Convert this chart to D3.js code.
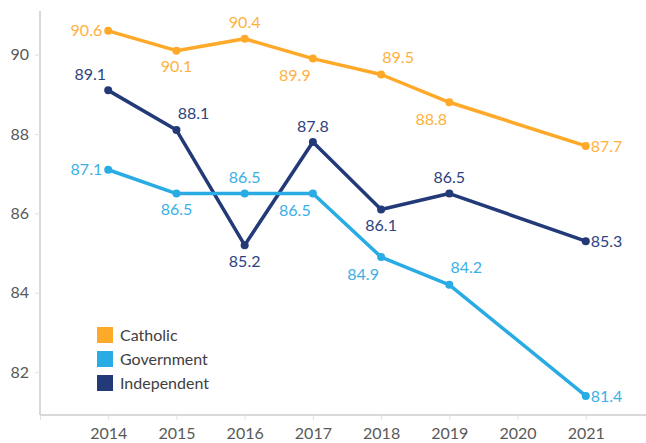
<!DOCTYPE html>
<html>
<head>
<meta charset="utf-8">
<script src="https://cdn.jsdelivr.net/npm/d3@7"></script>
<style>
    body { margin: 0; background: #fff; }
    text { font-family: Lato, "Open Sans", sans-serif; }
</style>
</head>
<body>
<div id="chart"></div>
<script>
// data (2020 has no value for any series)
var years = [2014, 2015, 2016, 2017, 2018, 2019, 2020, 2021];
var yTicks = [82, 84, 86, 88, 90];
var seriesNames = ["Catholic", "Government", "Independent"];
var catholic = [90.6, 90.1, 90.4, 89.9, 89.5, 88.8, null, 87.7];
var government = [87.1, 86.5, 86.5, 86.5, 84.9, 84.2, null, 81.4];
var independent = [89.1, 88.1, 85.2, 87.8, 86.1, 86.5, null, 85.3];

// where each data label sits relative to its point
var catholicLabels = ["left", "below", "above", "belowLeft", "aboveRight", "belowLeft", null, "right"];
var governmentLabels = ["left", "below", "above", "belowLeft", "belowLeft", "aboveRight", null, "right"];
var independentLabels = ["aboveLeft", "aboveRight", "below", "above", "below", "above", null, "right"];

var colors = { Catholic: "#FFA929", Government: "#29ABE3", Independent: "#233A79" };
var labelColors = { Catholic: "#FFB13C", Government: "#3AB0E6", Independent: "#2D4380" };

var width = 646, height = 443;

var svg = d3.select("#chart")
    .append("svg")
    .attr("width", width)
    .attr("height", height);

var x = d3.scaleLinear().domain([2013, 2022]).range([40, 654]);
var y = d3.scaleLinear().domain([80.92, 91.1]).range([415, 11]);

// x axis
var xAxis = svg.append("g")
    .attr("transform", "translate(0," + y(80.92) + ")")
    .call(d3.axisBottom(x).tickValues([2013].concat(years)).tickSize(5).tickPadding(8)
        .tickFormat(function(d) { return d == 2013 ? "" : d; }));
xAxis.select(".domain").attr("d", "M40,0H646").attr("stroke", "#cccccc").attr("stroke-width", 1.5);
xAxis.selectAll(".tick line").attr("stroke", "#e2e2e2");
xAxis.selectAll("text").attr("fill", "#595959").attr("font-size", 16).attr("font-family", "Lato, sans-serif");

// y axis
var yAxis = svg.append("g")
    .attr("transform", "translate(40,0)")
    .call(d3.axisLeft(y).tickValues(yTicks).tickSize(5).tickPadding(6));
yAxis.select(".domain").attr("d", "M0," + y(91.1) + "V" + y(80.92)).attr("stroke", "#cccccc").attr("stroke-width", 1.5);
yAxis.selectAll(".tick line").attr("stroke", "#e2e2e2");
yAxis.selectAll("text").attr("fill", "#595959").attr("font-size", 16).attr("font-family", "Lato, sans-serif");

var offsets = {
    left: [-6, 0, "end"],
    right: [5, 0, "start"],
    above: [0, -16, "middle"],
    below: [0, 16, "middle"],
    belowLeft: [-18, 17, "middle"],
    aboveRight: [17, -17, "middle"],
    aboveLeft: [-18, -16, "middle"]
};

var line = d3.line()
    .x(function(d) { return x(d.year); })
    .y(function(d) { return y(d.value); });

function drawSeries(name, values, labelPos) {
    var pts = years.map(function(yr, i) {
        return { year: yr, value: values[i], pos: labelPos[i] };
    }).filter(function(d) { return d.value != null; });

    var g = svg.append("g").attr("class", "series");

    g.append("path")
        .datum(pts)
        .attr("d", line)
        .attr("fill", "none")
        .attr("stroke", colors[name])
        .attr("stroke-width", 3.5)
        .attr("stroke-linejoin", "round");

    g.selectAll("circle")
        .data(pts)
        .enter().append("circle")
        .attr("cx", function(d) { return x(d.year); })
        .attr("cy", function(d) { return y(d.value); })
        .attr("r", 4)
        .attr("fill", colors[name]);

    g.selectAll("text")
        .data(pts)
        .enter().append("text")
        .attr("x", function(d) { return x(d.year) + offsets[d.pos][0]; })
        .attr("y", function(d) { return y(d.value) + offsets[d.pos][1]; })
        .attr("dy", "0.35em")
        .attr("text-anchor", function(d) { return offsets[d.pos][2]; })
        .attr("font-size", 16)
        .attr("fill", labelColors[name])
        .text(function(d) { return d.value.toFixed(1); });
}

drawSeries("Catholic", catholic, catholicLabels);
drawSeries("Independent", independent, independentLabels);
drawSeries("Government", government, governmentLabels);

// legend
var legend = svg.append("g").attr("transform", "translate(97,327)");
var items = legend.selectAll("g")
    .data(seriesNames)
    .enter().append("g")
    .attr("transform", function(d, i) { return "translate(0," + (i * 24) + ")"; });
items.append("rect")
    .attr("width", 16)
    .attr("height", 16)
    .attr("fill", function(d) { return colors[d]; });
items.append("text")
    .attr("x", 23)
    .attr("y", 8)
    .attr("dy", "0.35em")
    .attr("font-size", 16)
    .attr("fill", "#404040")
    .text(function(d) { return d; });
</script>
</body>
</html>
